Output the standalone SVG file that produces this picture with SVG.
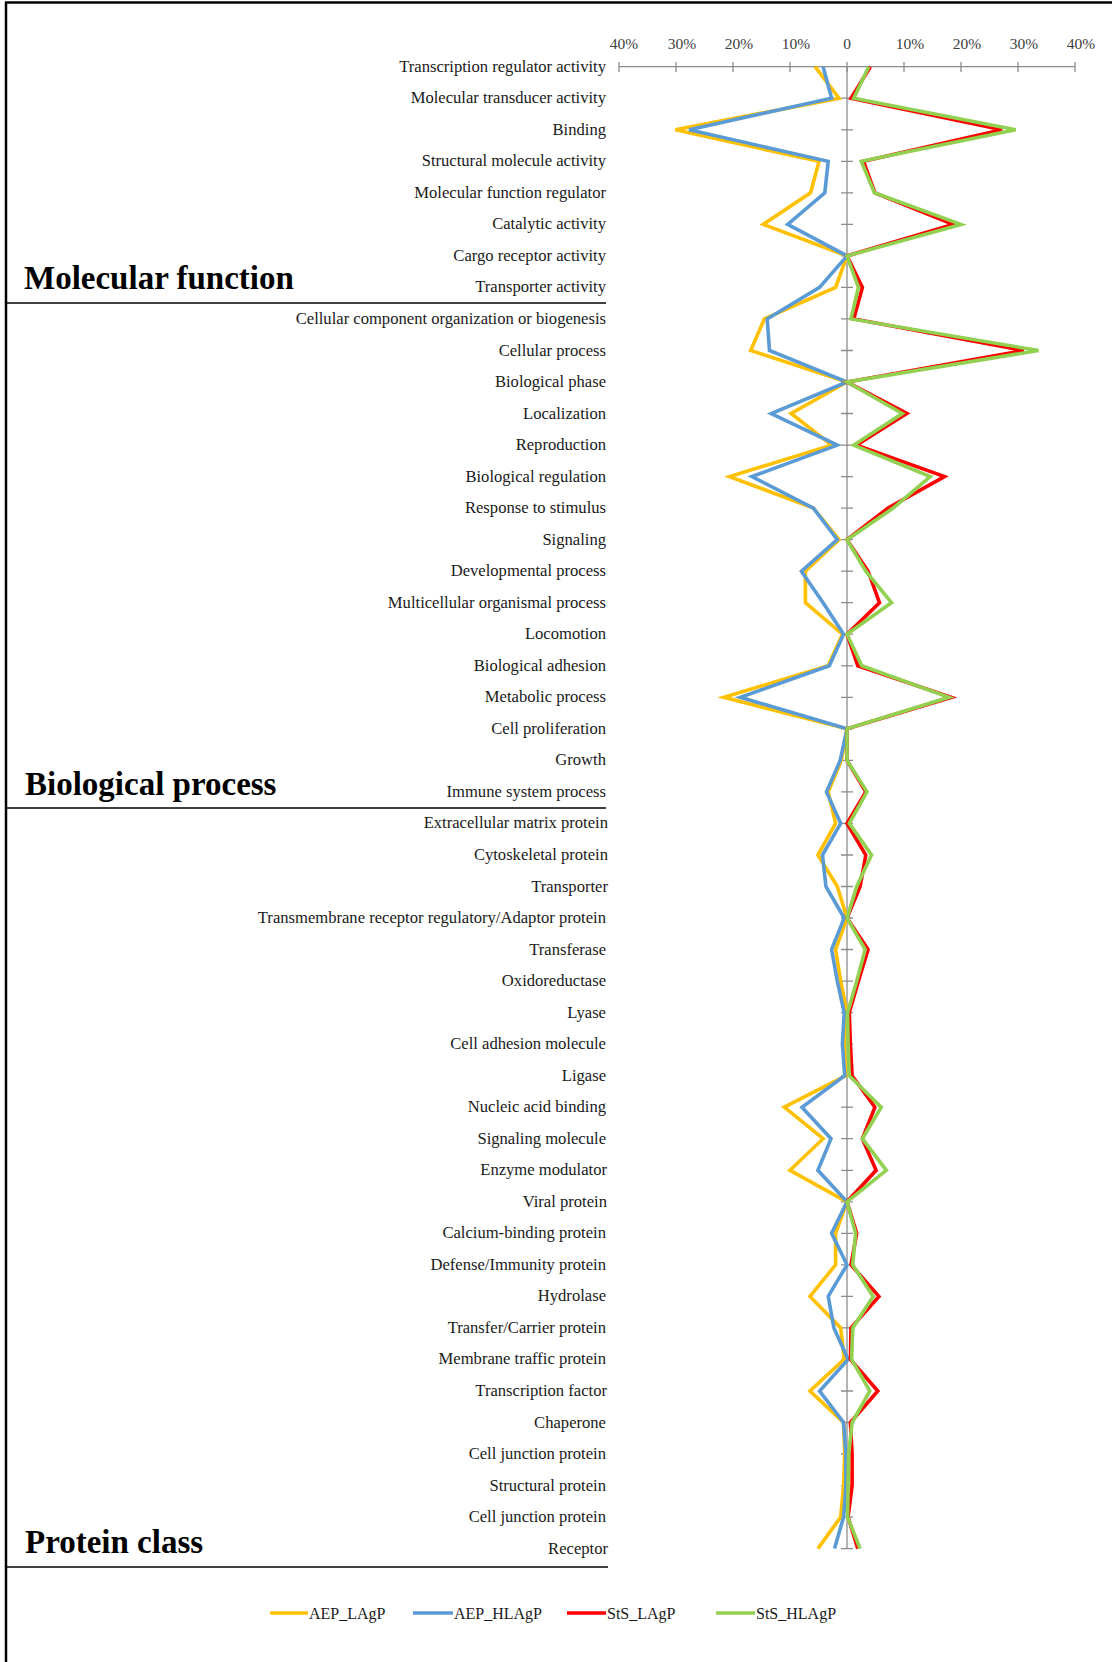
<svg xmlns="http://www.w3.org/2000/svg" width="1112" height="1662" viewBox="0 0 1112 1662">
<style>
.lbl{font-family:"Liberation Serif","Times New Roman",serif;font-size:16.6px;fill:#1a1a1a;text-anchor:end}
.tk{font-family:"Liberation Serif","Times New Roman",serif;font-size:15.5px;fill:#404040;text-anchor:middle}
.ttl{font-family:"Liberation Serif","Times New Roman",serif;font-size:33px;font-weight:bold;fill:#000}
.leg{font-family:"Liberation Serif","Times New Roman",serif;font-size:16px;fill:#1a1a1a}
.ax{stroke:#8c8c8c;stroke-width:1.3;fill:none}
.sep{stroke:#000;stroke-width:1.5}
.ser{fill:none;stroke-width:3.6;stroke-linejoin:miter}
.y{stroke:#FFC000}.b{stroke:#5B9BD5}.r{stroke:#FF0000}.g{stroke:#92D050}
</style>
<rect x="0" y="0" width="1112" height="1662" fill="#fff"/>
<g id="frame">
<line x1="5" y1="2.5" x2="1112" y2="2.5" stroke="#000" stroke-width="2.5"/>
<line x1="6" y1="2" x2="6" y2="1662" stroke="#000" stroke-width="2.5"/>
</g>
<g id="axes">
<line class="ax" x1="619" y1="66.7" x2="1075" y2="66.7"/>
<path class="ax" d="M619 62v10M676 62v10M733 62v10M790 62v10M847 62v10M904 62v10M961 62v10M1018 62v10M1075 62v10"/>
<line class="ax" x1="847" y1="66.7" x2="847" y2="1548.6"/>
<path class="ax" d="M841 98.2h12M841 129.8h12M841 161.3h12M841 192.8h12M841 224.4h12M841 255.9h12M841 287.4h12M841 318.9h12M841 350.5h12M841 382h12M841 413.5h12M841 445.1h12M841 476.6h12M841 508.1h12M841 539.7h12M841 571.2h12M841 602.7h12M841 634.2h12M841 665.8h12M841 697.3h12M841 728.8h12M841 760.4h12M841 791.9h12M841 823.4h12M841 855h12M841 886.5h12M841 918h12M841 949.5h12M841 981.1h12M841 1012.6h12M841 1044.1h12M841 1075.7h12M841 1107.2h12M841 1138.7h12M841 1170.3h12M841 1201.8h12M841 1233.3h12M841 1264.8h12M841 1296.4h12M841 1327.9h12M841 1359.4h12M841 1391h12M841 1422.5h12M841 1454h12M841 1485.6h12M841 1517.1h12M841 1548.6h12"/>
<text class="tk" x="624" y="49">40%</text>
<text class="tk" x="682" y="49">30%</text>
<text class="tk" x="739" y="49">20%</text>
<text class="tk" x="796" y="49">10%</text>
<text class="tk" x="847" y="49">0</text>
<text class="tk" x="910" y="49">10%</text>
<text class="tk" x="967" y="49">20%</text>
<text class="tk" x="1024" y="49">30%</text>
<text class="tk" x="1081" y="49">40%</text>
</g>
<g id="labels">
<text class="lbl" x="606" y="71.7">Transcription regulator activity</text>
<text class="lbl" x="606" y="103.2">Molecular transducer activity</text>
<text class="lbl" x="606" y="134.8">Binding</text>
<text class="lbl" x="606" y="166.3">Structural molecule activity</text>
<text class="lbl" x="606" y="197.8">Molecular function regulator</text>
<text class="lbl" x="606" y="229.4">Catalytic activity</text>
<text class="lbl" x="606" y="260.9">Cargo receptor activity</text>
<text class="lbl" x="606" y="292.4">Transporter activity</text>
<text class="lbl" x="606" y="323.9">Cellular component organization or biogenesis</text>
<text class="lbl" x="606" y="355.5">Cellular process</text>
<text class="lbl" x="606" y="387">Biological phase</text>
<text class="lbl" x="606" y="418.5">Localization</text>
<text class="lbl" x="606" y="450.1">Reproduction</text>
<text class="lbl" x="606" y="481.6">Biological regulation</text>
<text class="lbl" x="606" y="513.1">Response to stimulus</text>
<text class="lbl" x="606" y="544.7">Signaling</text>
<text class="lbl" x="606" y="576.2">Developmental process</text>
<text class="lbl" x="606" y="607.7">Multicellular organismal process</text>
<text class="lbl" x="606" y="639.2">Locomotion</text>
<text class="lbl" x="606" y="670.8">Biological adhesion</text>
<text class="lbl" x="606" y="702.3">Metabolic process</text>
<text class="lbl" x="606" y="733.8">Cell proliferation</text>
<text class="lbl" x="606" y="765.4">Growth</text>
<text class="lbl" x="606" y="796.9">Immune system process</text>
<text class="lbl" x="608" y="828.4">Extracellular matrix protein</text>
<text class="lbl" x="608" y="860">Cytoskeletal protein</text>
<text class="lbl" x="608" y="891.5">Transporter</text>
<text class="lbl" x="606" y="923">Transmembrane receptor regulatory/Adaptor protein</text>
<text class="lbl" x="606" y="954.5">Transferase</text>
<text class="lbl" x="606" y="986.1">Oxidoreductase</text>
<text class="lbl" x="606" y="1017.6">Lyase</text>
<text class="lbl" x="606" y="1049.1">Cell adhesion molecule</text>
<text class="lbl" x="606" y="1080.7">Ligase</text>
<text class="lbl" x="606" y="1112.2">Nucleic acid binding</text>
<text class="lbl" x="606" y="1143.7">Signaling molecule</text>
<text class="lbl" x="607" y="1175.3">Enzyme modulator</text>
<text class="lbl" x="607" y="1206.8">Viral protein</text>
<text class="lbl" x="606" y="1238.3">Calcium-binding protein</text>
<text class="lbl" x="606" y="1269.8">Defense/Immunity protein</text>
<text class="lbl" x="606" y="1301.4">Hydrolase</text>
<text class="lbl" x="606" y="1332.9">Transfer/Carrier protein</text>
<text class="lbl" x="606" y="1364.4">Membrane traffic protein</text>
<text class="lbl" x="607" y="1396">Transcription factor</text>
<text class="lbl" x="606" y="1427.5">Chaperone</text>
<text class="lbl" x="606" y="1459">Cell junction protein</text>
<text class="lbl" x="606" y="1490.6">Structural protein</text>
<text class="lbl" x="606" y="1522.1">Cell junction protein</text>
<text class="lbl" x="608" y="1553.6">Receptor</text>
</g>
<g id="sections">
<text class="ttl" x="24" y="289">Molecular function</text>
<line class="sep" x1="6" y1="303" x2="606" y2="303"/>
<text class="ttl" x="25" y="795">Biological process</text>
<line class="sep" x1="6" y1="808" x2="606" y2="808"/>
<text class="ttl" x="25" y="1553">Protein class</text>
<line class="sep" x1="6" y1="1567" x2="608" y2="1567"/>
</g>
<g id="connectors">
<polyline class="ser y" points="815.1,66.7 839,98.2 675.4,129.8 819.1,161.3 810.5,192.8 763.2,224.4 847,255.9 835.6,287.4 764.4,318.9 750.7,350.5 847,382 791.1,413.5 831.6,445.1 729.6,476.6 813.4,508.1 839,539.7 805.4,571.2 805.4,602.7 842.4,634.2 828.2,665.8 723.9,697.3 847,728.8 841.3,760.4 828.2,791.9 835.6,823.4 817.9,855 837.3,886.5 847,918 835.6,949.5 840.7,981.1 847,1012.6 844.2,1044.1 845.9,1075.7 784.3,1107.2 823.1,1138.7 790,1170.3 847,1201.8 835.6,1233.3 835.6,1264.8 810,1296.4 840.7,1327.9 844.2,1359.4 810,1391 843.6,1422.5 844.7,1454 843.6,1485.6 840.7,1517.1 817.9,1548.6"/>
<polyline class="ser b" points="823.1,66.7 831.6,98.2 689.1,129.8 828.2,161.3 824.8,192.8 787.7,224.4 847,255.9 819.6,287.4 767.2,318.9 769.5,350.5 847,382 771.2,413.5 837.3,445.1 751.8,476.6 813.4,508.1 837.3,539.7 801.4,571.2 823.1,602.7 843.6,634.2 829.3,665.8 740.4,697.3 847,728.8 840.2,760.4 826.5,791.9 840.7,823.4 822.5,855 825.9,886.5 844.2,918 831.6,949.5 837.3,981.1 844.2,1012.6 842.4,1044.1 844.7,1075.7 802,1107.2 831,1138.7 817.9,1170.3 847,1201.8 831.6,1233.3 847,1264.8 828.2,1296.4 833.9,1327.9 848.1,1359.4 819.6,1391 843.6,1422.5 845.9,1454 845.9,1485.6 843.6,1517.1 834.5,1548.6"/>
<polyline class="ser r" points="870.4,66.7 851,98.2 1002,129.8 863.5,161.3 874.9,192.8 953,224.4 847,255.9 862.4,287.4 853.8,318.9 1023.7,350.5 847,382 906.9,413.5 856.7,445.1 944.5,476.6 888,508.1 847,539.7 868.1,571.2 879.5,602.7 847,634.2 857.8,665.8 951.3,697.3 847,728.8 847,760.4 865.8,791.9 847,823.4 865.8,855 860.1,886.5 847,918 868.1,949.5 858.4,981.1 849.3,1012.6 850.4,1044.1 852.1,1075.7 874.9,1107.2 862.4,1138.7 876.1,1170.3 847,1201.8 856.7,1233.3 851,1264.8 878.9,1296.4 851,1327.9 850.4,1359.4 877.8,1391 850.4,1422.5 852.1,1454 852.1,1485.6 848.1,1517.1 857.8,1548.6"/>
<polyline class="ser g" points="868.7,66.7 853.8,98.2 1015.7,129.8 861.3,161.3 874.4,192.8 961,224.4 847,255.9 858.4,287.4 851,318.9 1038.5,350.5 847,382 902.3,413.5 853.8,445.1 930.2,476.6 893.2,508.1 847,539.7 865.8,571.2 891.5,602.7 847,634.2 861.8,665.8 949,697.3 847,728.8 847,760.4 867,791.9 849.3,823.4 871.5,855 856.7,886.5 847,918 865.2,949.5 856.7,981.1 847.6,1012.6 848.1,1044.1 849.3,1075.7 881.2,1107.2 862.4,1138.7 886.3,1170.3 847,1201.8 855.6,1233.3 852.7,1264.8 873.2,1296.4 852.7,1327.9 851.6,1359.4 869.8,1391 852.1,1422.5 848.7,1454 848.1,1485.6 847.6,1517.1 860.1,1548.6"/>
</g>
<g id="legend">
<line class="ser y" x1="270" y1="1613" x2="308" y2="1613"/>
<text class="leg" x="309" y="1618.5">AEP_LAgP</text>
<line class="ser b" x1="413" y1="1613" x2="453" y2="1613"/>
<text class="leg" x="454" y="1618.5">AEP_HLAgP</text>
<line class="ser r" x1="567" y1="1613" x2="606" y2="1613"/>
<text class="leg" x="607" y="1618.5">StS_LAgP</text>
<line class="ser g" x1="716" y1="1613" x2="755" y2="1613"/>
<text class="leg" x="756" y="1618.5">StS_HLAgP</text>
</g>
</svg>
